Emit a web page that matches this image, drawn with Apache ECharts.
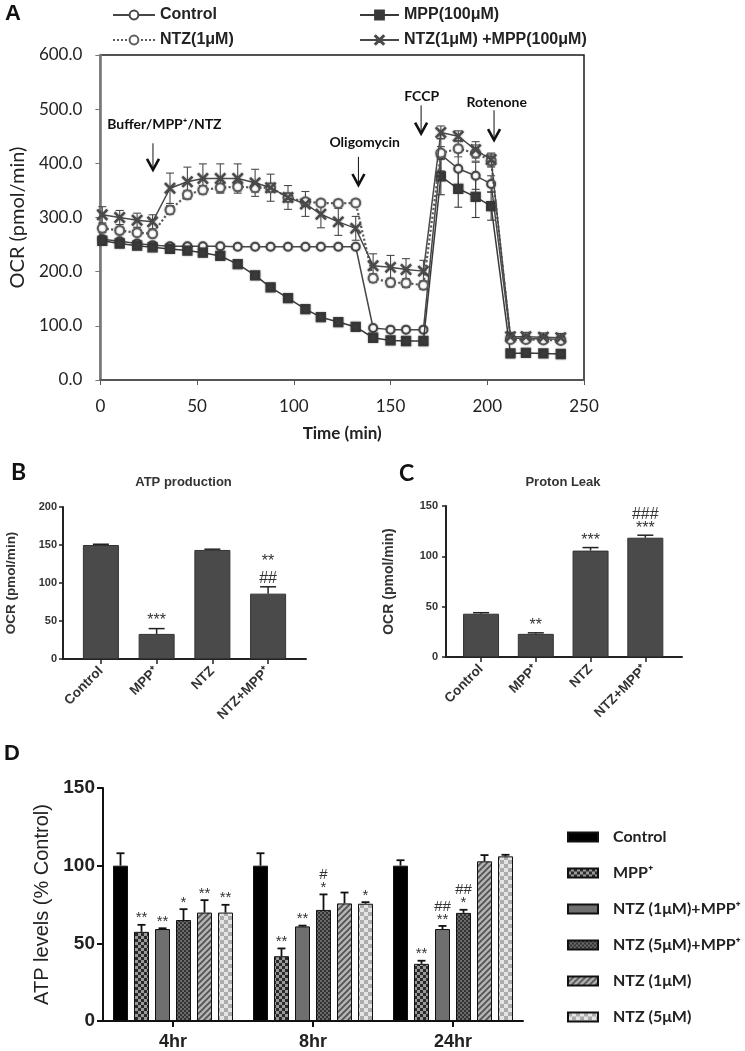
<!DOCTYPE html>
<html><head><meta charset="utf-8">
<script src="https://cdn.jsdelivr.net/npm/echarts@6/dist/echarts.min.js"></script>
<style>html,body{margin:0;padding:0;background:#fff}#c{width:745px;height:1051px}</style>
</head><body><div id="c"></div>
<script>
// ---------- Panel A : OCR time course ----------
const timeA = [1, 10, 19, 27, 36, 45, 53, 62, 71, 80, 88, 97, 106, 114, 123, 132, 141, 150, 158, 167, 176, 185, 194, 202, 212, 220, 229, 238];
const ctrlA = [260, 256, 252, 249, 247, 247, 247, 247, 246, 246, 246, 246, 246, 246, 246, 246, 96, 93, 93, 93, 416, 390, 377, 362, 78, 76, 76, 75];
const ctrlErrA = [6, 5, 5, 5, 4, 4, 4, 4, 4, 4, 4, 4, 4, 4, 4, 4, 4, 3, 3, 3, 30, 30, 25, 15, 4, 4, 4, 4];
const mppA = [257, 252, 248, 245, 242, 239, 235, 229, 214, 193, 171, 151, 131, 116, 107, 98, 78, 73, 72, 72, 376, 353, 338, 321, 49, 50, 49, 48];
const mppErrA = [4, 4, 4, 4, 4, 4, 4, 4, 4, 4, 4, 4, 4, 4, 4, 4, 4, 3, 3, 3, 34, 34, 38, 26, 3, 3, 3, 3];
const ntzA = [280, 276, 272, 270, 314, 342, 351, 355, 357, 355, 355, 337, 329, 327, 326, 327, 188, 180, 179, 175, 419, 427, 419, 405, 75, 75, 74, 73];
const ntzErrA = [8, 6, 6, 6, 8, 8, 8, 8, 8, 8, 8, 8, 6, 6, 6, 6, 8, 8, 8, 8, 12, 15, 15, 12, 6, 6, 6, 6];
const ntzMppA = [305, 300, 295, 292, 354, 366, 372, 372, 372, 364, 355, 337, 325, 306, 292, 280, 211, 208, 204, 201, 457, 450, 425, 407, 80, 80, 79, 78];
const ntzMppErrA = [15, 13, 13, 13, 28, 27, 27, 27, 27, 25, 25, 22, 23, 25, 25, 22, 22, 22, 20, 20, 12, 10, 15, 12, 8, 8, 8, 8];
const seriesNamesA = ['Control', 'MPP(100μM)', 'NTZ(1μM)', 'NTZ(1μM) +MPP(100μM)'];
const yTicksA = [0, 100, 200, 300, 400, 500, 600];
// injections: label, arrow x (min), arrow top / bottom (OCR), label x, label y
const injLabels = ['Buffer/MPP⁺/NTZ', 'Oligomycin', 'FCCP', 'Rotenone'];
const injArrowX = [27.2, 133.4, 165.8, 203.5];
const injArrowTop = [437, 412, 507, 498];
const injArrowBottom = [388, 360, 455, 443];
const injLabelX = [33.1, 136.6, 166.1, 204.9];
const injLabelY = [471, 439, 524, 512];

// ---------- Panels B & C ----------
const catsBC = ['Control', 'MPP⁺', 'NTZ', 'NTZ+MPP⁺'];
const atpProd = [150, 33, 143.5, 86];
const atpProdErr = [1, 7, 1, 9];
const atpProdSig = ['', '***', '', '**\n##'];
const protonLeak = [43, 23, 105.7, 118.5];
const protonLeakErr = [1, 1, 3, 2.5];
const protonLeakSig = ['', '**', '***', '###\n***'];

// ---------- Panel D ----------
const timesD = ['4hr', '8hr', '24hr'];
const groupsD = ['Control ', 'MPP⁺', 'NTZ (1μM)+MPP⁺', 'NTZ (5μM)+MPP⁺', 'NTZ (1μM)', 'NTZ (5μM)'];
const dControl = [100, 100, 100];        const dControlErr = [8, 8, 3.5];     const dControlSig = ['', '', ''];
const dMpp = [57.4, 41.7, 36.8];         const dMppErr = [4.5, 5, 2];        const dMppSig = ['**', '**', '**'];
const dNtz1Mpp = [59.2, 60.9, 59.2];     const dNtz1MppErr = [0.5, 0.5, 2];  const dNtz1MppSig = ['**', '**', '##\n**'];
const dNtz5Mpp = [65, 71.5, 69.6];       const dNtz5MppErr = [7, 10, 2];     const dNtz5MppSig = ['*', '#\n*', '##\n*'];
const dNtz1 = [69.8, 75.7, 102.8];       const dNtz1Err = [8, 7, 4];         const dNtz1Sig = ['**', '', ''];
const dNtz5 = [69.8, 75.5, 106];         const dNtz5Err = [5, 1, 1];         const dNtz5Sig = ['**', '*', ''];

// ---------- helpers ----------
const FA = 'Lato, "Open Sans", sans-serif';
const FB = '"Liberation Sans", Arial, Helvetica, sans-serif';

function pat(size, draw) {
  const c = document.createElement('canvas');
  c.width = c.height = size;
  draw(c.getContext('2d'), size);
  return { image: c, repeat: 'repeat' };
}
const pMpp = pat(6, (g) => { g.fillStyle = '#9a9a9a'; g.fillRect(0, 0, 6, 6); g.fillStyle = '#2a2a2a'; g.fillRect(0, 0, 3, 3); g.fillRect(3, 3, 3, 3); });
const pN1M = '#6f6f6f';
const pN5M = pat(4, (g) => { g.fillStyle = '#333'; g.fillRect(0, 0, 4, 4); g.fillStyle = '#6a6a6a'; g.fillRect(0, 0, 2, 2); g.fillRect(2, 2, 2, 2); });
const pN1 = pat(6, (g) => {
  g.fillStyle = '#b3b3b3'; g.fillRect(0, 0, 6, 6);
  g.strokeStyle = '#4f4f4f'; g.lineWidth = 1.6; g.beginPath();
  g.moveTo(-1, 7); g.lineTo(7, -1); g.moveTo(-4, 4); g.lineTo(4, -4); g.moveTo(2, 10); g.lineTo(10, 2); g.stroke();
});
const pN5 = pat(8, (g) => { g.fillStyle = '#e4e4e4'; g.fillRect(0, 0, 8, 8); g.fillStyle = '#ababab'; g.fillRect(0, 0, 4, 4); g.fillRect(4, 4, 4, 4); });

function pairs(xs, ys) { return xs.map((x, i) => [x, ys[i]]); }
function triples(xs, ys, es) { return xs.map((x, i) => [x, ys[i], es[i]]); }

function errRender(o) {
  return function (params, api) {
    const x = api.value(0), y = api.value(1), e = api.value(2);
    const top = api.coord([x, y + e]);
    const mid = api.coord([x, y]);
    const bot = api.coord([x, y - e]);
    const cx = top[0] + (o.offset || 0);
    const st = { stroke: o.color, lineWidth: o.width || 1.2 };
    const ch = [];
    ch.push({ type: 'line', shape: { x1: cx, y1: o.both ? bot[1] : mid[1], x2: cx, y2: top[1] }, style: st });
    ch.push({ type: 'line', shape: { x1: cx - o.cap, y1: top[1], x2: cx + o.cap, y2: top[1] }, style: st });
    if (o.both) ch.push({ type: 'line', shape: { x1: cx - o.cap, y1: bot[1], x2: cx + o.cap, y2: bot[1] }, style: st });
    const s = o.sig && o.sig[params.dataIndex];
    if (s) ch.push({ type: 'text', x: cx, y: top[1] - (o.sigGap || 0), style: { text: s, fill: '#333', font: o.sigFont, align: 'center', verticalAlign: 'bottom', lineHeight: o.sigLH } });
    return { type: 'group', children: ch };
  };
}
function errSeries(xi, yi, data, o) {
  return { type: 'custom', xAxisIndex: xi, yAxisIndex: yi, data: data, encode: { x: 0, y: 1 }, renderItem: errRender(o), z: o.z || 3, silent: true };
}

// panel A line series
const lineStyles = [
  { symbol: 'emptyCircle', symbolSize: 8, color: '#474747', lt: 'solid', lw: 1.5 },
  { symbol: 'rect', symbolSize: 9, color: '#3a3a3a', lt: 'solid', lw: 1.5 },
  { symbol: 'emptyCircle', symbolSize: 9, color: '#5c5c5c', lt: 'dotted', lw: 2.2 },
  { symbol: 'path://M0,0.8L0.8,0L5,4.2L9.2,0L10,0.8L5.8,5L10,9.2L9.2,10L5,5.8L0.8,10L0,9.2L4.2,5Z', symbolSize: 10, color: '#4a4a4a', lt: 'solid', lw: 1.5 }
];
const valsA = [ctrlA, mppA, ntzA, ntzMppA];
const errsA = [ctrlErrA, mppErrA, ntzErrA, ntzMppErrA];
const series = [];
valsA.forEach((v, k) => {
  const s = lineStyles[k];
  series.push(errSeries(0, 0, triples(timeA, v, errsA[k]), { color: s.color, cap: 4, both: true, width: 1.1, z: 2 }));
  series.push({
    name: seriesNamesA[k], type: 'line', xAxisIndex: 0, yAxisIndex: 0, data: pairs(timeA, v),
    symbol: s.symbol, symbolSize: s.symbolSize, showAllSymbol: true,
    lineStyle: { color: s.color, width: s.lw, type: s.lt },
    itemStyle: { color: s.color, borderColor: s.color, borderWidth: 1.3, shadowBlur: 2, shadowColor: 'rgba(0,0,0,0.35)' },
    z: 4 + k
  });
});
// injection annotations (drawn through the axis scales)
series.push({
  type: 'custom', xAxisIndex: 0, yAxisIndex: 0, silent: true, z: 10,
  data: injLabels.map((t, i) => [injArrowX[i], injArrowTop[i], injArrowBottom[i], injLabelX[i], injLabelY[i]]),
  encode: { x: 0, y: 1 },
  renderItem: function (params, api) {
    const p1 = api.coord([api.value(0), api.value(1)]);
    const p2 = api.coord([api.value(0), api.value(2)]);
    const pt = api.coord([api.value(3), api.value(4)]);
    return { type: 'group', children: [
      { type: 'line', shape: { x1: p1[0], y1: p1[1], x2: p2[0], y2: p2[1] }, style: { stroke: '#111', lineWidth: 1 } },
      { type: 'polyline', shape: { points: [[p2[0] - 6, p2[1] - 11], [p2[0], p2[1]], [p2[0] + 6, p2[1] - 11]] }, style: { stroke: '#111', lineWidth: 2.6, fill: null } },
      { type: 'text', x: pt[0], y: pt[1], style: { text: injLabels[params.dataIndex], font: 'bold 14px ' + FA, fill: '#111', align: 'center', verticalAlign: 'middle' } }
    ] };
  }
});

// panel B & C bars
const barGrey = { color: '#4a4a4a', borderColor: '#333', borderWidth: 1 };
series.push({ name: 'ATP production', type: 'bar', xAxisIndex: 1, yAxisIndex: 1, barWidth: 36, data: atpProd.map((v, i) => [i, v]), itemStyle: barGrey, z: 2 });
series.push(errSeries(1, 1, atpProd.map((v, i) => [i, v, atpProdErr[i]]), { color: '#222', cap: 8, width: 1.5, sig: atpProdSig, sigFont: '16px ' + FB, sigLH: 17 }));
series.push({ name: 'Proton Leak', type: 'bar', xAxisIndex: 2, yAxisIndex: 2, barWidth: 36, data: protonLeak.map((v, i) => [i, v]), itemStyle: barGrey, z: 2 });
series.push(errSeries(2, 2, protonLeak.map((v, i) => [i, v, protonLeakErr[i]]), { color: '#222', cap: 8, width: 1.5, sig: protonLeakSig, sigFont: '16px ' + FB, sigLH: 14 }));

// panel D bars
const dVals = [dControl, dMpp, dNtz1Mpp, dNtz5Mpp, dNtz1, dNtz5];
const dErrs = [dControlErr, dMppErr, dNtz1MppErr, dNtz5MppErr, dNtz1Err, dNtz5Err];
const dSigs = [dControlSig, dMppSig, dNtz1MppSig, dNtz5MppSig, dNtz1Sig, dNtz5Sig];
const dFills = ['#000', pMpp, pN1M, pN5M, pN1, pN5];
const BW = 15, BG = 6;
dVals.forEach((v, k) => {
  series.push({ name: groupsD[k], type: 'bar', xAxisIndex: 3, yAxisIndex: 3, data: v, barWidth: BW, barGap: (BG / BW * 100) + '%',
    itemStyle: { color: dFills[k], borderColor: '#111', borderWidth: 1 }, z: 2 });
  series.push(errSeries(3, 3, v.map((x, i) => [i, x, dErrs[k][i]]), { color: '#111', cap: 4, width: 1.8, offset: (k - 2.5) * (BW + BG), sig: dSigs[k], sigFont: '15px ' + FB, sigLH: 13 }));
});

const axisTxtB = { fontFamily: FB, fontWeight: 'bold', color: '#333' };
const legendTxtA = { fontFamily: FB, fontWeight: 'bold', fontSize: 16, color: '#222' };
const option = {
  animation: false,
  backgroundColor: '#fff',
  grid: [
    { left: 100, top: 55, width: 484, height: 325, show: true, borderColor: '#1a1a1a', borderWidth: 1.5, backgroundColor: 'transparent' },
    { left: 63, top: 507, width: 243, height: 152 },
    { left: 446, top: 506, width: 236, height: 151 },
    { left: 103, top: 788, width: 420, height: 235 }
  ],
  xAxis: [
    { gridIndex: 0, type: 'value', min: 0, max: 250, interval: 50,
      axisLine: { show: true, onZero: false, lineStyle: { color: '#555', width: 2 } },
      axisTick: { show: true, length: 5, lineStyle: { color: '#555' } },
      axisLabel: { fontFamily: FA, fontSize: 17, color: '#222', margin: 18 },
      splitLine: { show: false },
      name: 'Time (min)', nameLocation: 'middle', nameGap: 45,
      nameTextStyle: { fontFamily: FA, fontWeight: 'bold', fontSize: 17, color: '#222' } },
    { gridIndex: 1, type: 'value', min: -0.68, max: 3.68,
      axisLine: { show: true, onZero: false, lineStyle: { color: '#222', width: 2 } },
      axisTick: { show: true, length: 5, customValues: [0, 1, 2, 3], lineStyle: { color: '#222', width: 1.5 } },
      axisLabel: { customValues: [0, 1, 2, 3], formatter: (v) => catsBC[Math.round(v)], rotate: 45, fontSize: 13.5, margin: 10, ...axisTxtB },
      splitLine: { show: false } },
    { gridIndex: 2, type: 'value', min: -0.64, max: 3.67,
      axisLine: { show: true, onZero: false, lineStyle: { color: '#222', width: 2 } },
      axisTick: { show: true, length: 5, customValues: [0, 1, 2, 3], lineStyle: { color: '#222', width: 1.5 } },
      axisLabel: { customValues: [0, 1, 2, 3], formatter: (v) => catsBC[Math.round(v)], rotate: 45, fontSize: 13.5, margin: 10, ...axisTxtB },
      splitLine: { show: false } },
    { gridIndex: 3, type: 'category', data: timesD,
      axisLine: { show: true, onZero: false, lineStyle: { color: '#111', width: 2 } },
      axisTick: { show: true, alignWithLabel: true, length: 6, lineStyle: { color: '#111', width: 2 } },
      axisLabel: { fontSize: 18, margin: 12, ...axisTxtB, color: '#222' } }
  ],
  yAxis: [
    { gridIndex: 0, type: 'value', min: yTicksA[0], max: yTicksA[yTicksA.length - 1], interval: 100,
      axisLine: { show: true, onZero: false, lineStyle: { color: '#777', width: 2.5 } },
      axisTick: { show: true, length: 5, lineStyle: { color: '#777' } },
      axisLabel: { formatter: (v) => v.toFixed(1), fontFamily: FA, fontSize: 17, color: '#222', margin: 18 },
      splitLine: { show: false },
      name: 'OCR (pmol/min)', nameLocation: 'middle', nameGap: 71,
      nameTextStyle: { fontFamily: FA, fontSize: 20, color: '#222' } },
    { gridIndex: 1, type: 'value', min: 0, max: 200, interval: 50,
      axisLine: { show: true, onZero: false, lineStyle: { color: '#222', width: 2 } },
      axisTick: { show: true, length: 4, lineStyle: { color: '#222', width: 1.5 } },
      axisLabel: { fontSize: 11, margin: 6, ...axisTxtB },
      splitLine: { show: false },
      name: 'OCR (pmol/min)', nameLocation: 'middle', nameGap: 45,
      nameTextStyle: { fontSize: 13.5, ...axisTxtB } },
    { gridIndex: 2, type: 'value', min: 0, max: 150, interval: 50,
      axisLine: { show: true, onZero: false, lineStyle: { color: '#222', width: 2 } },
      axisTick: { show: true, length: 4, lineStyle: { color: '#222', width: 1.5 } },
      axisLabel: { fontSize: 11, margin: 8, ...axisTxtB },
      splitLine: { show: false },
      name: 'OCR (pmol/min)', nameLocation: 'middle', nameGap: 50,
      nameTextStyle: { fontSize: 14, ...axisTxtB } },
    { gridIndex: 3, type: 'value', min: 0, max: 150, interval: 50,
      axisLine: { show: true, onZero: false, lineStyle: { color: '#111', width: 2 } },
      axisTick: { show: true, length: 6, lineStyle: { color: '#111', width: 2 } },
      axisLabel: { fontSize: 19, margin: 8, ...axisTxtB, color: '#222' },
      splitLine: { show: false },
      name: 'ATP levels (% Control)', nameLocation: 'middle', nameGap: 44,
      nameTextStyle: { fontFamily: FB, fontSize: 20, color: '#222' } }
  ],
  legend: [
    { data: [seriesNamesA[0]], left: 107, top: 2, itemWidth: 42, itemHeight: 11, selectedMode: false, textStyle: legendTxtA },
    { data: [seriesNamesA[1]], left: 354, top: 2, itemWidth: 39, itemHeight: 11, selectedMode: false, textStyle: legendTxtA },
    { data: [seriesNamesA[2]], left: 107, top: 27, itemWidth: 42, itemHeight: 11, selectedMode: false, textStyle: legendTxtA },
    { data: [seriesNamesA[3]], left: 354, top: 27, itemWidth: 39, itemHeight: 11, selectedMode: false, textStyle: legendTxtA },
    { data: groupsD, orient: 'vertical', left: 562, top: 824, itemWidth: 30, itemHeight: 9, itemGap: 20, icon: 'rect', selectedMode: false,
      textStyle: { fontFamily: FA, fontWeight: 'bold', fontSize: 16, color: '#222', padding: [0, 0, 0, 10] } }
  ],
  graphic: [
    { type: 'text', x: 5, y: 3, style: { text: 'A', font: 'bold 22px ' + FB, fill: '#111' } },
    { type: 'text', x: 11, y: 461, style: { text: 'B', font: 'bold 23px ' + FA, fill: '#111' } },
    { type: 'text', x: 399, y: 462, style: { text: 'C', font: 'bold 23px ' + FA, fill: '#111' } },
    { type: 'text', x: 4, y: 743, style: { text: 'D', font: 'bold 22px ' + FB, fill: '#111' } },
    { type: 'text', x: 183.5, y: 482, style: { text: 'ATP production', font: 'bold 13px ' + FB, fill: '#333', align: 'center', verticalAlign: 'middle' } },
    { type: 'text', x: 563, y: 482, style: { text: 'Proton Leak', font: 'bold 13px ' + FB, fill: '#333', align: 'center', verticalAlign: 'middle' } }
  ],
  series: series
};
const chart = echarts.init(document.getElementById('c'), null, { renderer: 'canvas', width: 745, height: 1051 });
chart.setOption(option);
</script>
</body></html>
